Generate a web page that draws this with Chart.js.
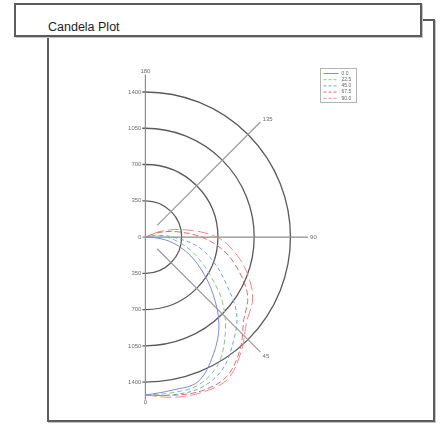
<!DOCTYPE html>
<html>
<head>
<meta charset="utf-8">
<title>Candela Plot</title>
<script src="https://cdn.jsdelivr.net/npm/chart.js@4.4.1/dist/chart.umd.min.js"></script>
<style>
    html, body { margin: 0; padding: 0; background: #fff; }
    body { width: 445px; height: 424px; position: relative; overflow: hidden; font-family: "Liberation Sans", Arial, sans-serif; }
    .panel { position: absolute; left: 47px; top: 19px; width: 384px; height: 399px; border: 2px solid #5c5c5c; box-shadow: 1px 1px 0 #c4c4c4; }
    .title-box { position: absolute; left: 14px; top: 3px; width: 404px; height: 30px; border: 2px solid #5c5c5c; background: #fff; box-shadow: 1px 1px 0 #c4c4c4; }
    .title-box span { position: absolute; left: 32px; top: 16px; line-height: 1; font-size: 12.5px; color: #222; white-space: nowrap; }
    #wrap { position: absolute; left: 0; top: 0; width: 445px; height: 424px; }
</style>
</head>
<body>
<div class="panel"></div>
<div class="title-box"><span>Candela Plot</span></div>
<div id="wrap"><canvas id="candela" width="445" height="424"></canvas></div>

<script>
    // vertical angles (deg from nadir) and candela values per C-plane
    const angles = [0, 10, 20, 30, 40, 50, 60, 70, 80, 90, 100, 110, 120];
    const planeLabels = ['0.0', '22.5', '45.0', '67.5', '90.0'];
    const cdPlane0 = [1525, 1500, 1485, 1310, 1105, 850, 620, 425, 235, 50, 0, 0, 0];
    const cdPlane22 = [1525, 1525, 1515, 1410, 1200, 970, 715, 520, 350, 200, 60, 0, 0];
    const cdPlane45 = [1525, 1545, 1550, 1480, 1320, 1150, 900, 700, 510, 265, 100, 0, 0];
    const cdPlane67 = [1525, 1550, 1580, 1560, 1420, 1240, 1140, 960, 770, 540, 300, 120, 0];
    const cdPlane90 = [1525, 1570, 1595, 1585, 1440, 1275, 1195, 1050, 880, 690, 400, 170, 0];

    // grid rings and angle spokes
    const ringTicks = [350, 700, 1050, 1400];
    const ringLabels = ['350', '700', '1050', '1400'];
    const angleTicks = [0, 45, 90, 135, 180];
    const angleLabels = ['0', '45', '90', '135', '180'];
    const axisMax = 1570;
    const spokeStart = 160;

    const planeStyles = [
        {color: '#7d8ad6', dash: []},
        {color: '#86c48c', dash: [5, 3]},
        {color: '#6aa4d8', dash: [4, 3]},
        {color: '#e06c6c', dash: [6, 3]},
        {color: '#f08a8a', dash: [11, 4]}
    ];

    function toPoints(values) {
        return angles.map(function (a, i) {
            const rad = a * Math.PI / 180;
            return {x: values[i] * Math.sin(rad), y: -values[i] * Math.cos(rad)};
        });
    }

    const planes = [cdPlane0, cdPlane22, cdPlane45, cdPlane67, cdPlane90];
    const datasets = planes.map(function (values, i) {
        return {
            label: planeLabels[i],
            data: toPoints(values),
            showLine: true,
            borderColor: planeStyles[i].color,
            borderDash: planeStyles[i].dash,
            borderWidth: 1,
            pointRadius: 0,
            tension: 0.35,
            fill: false
        };
    });

    // Polar grid: rings, axes, spokes, labels
    const polarGrid = {
        id: 'polarGrid',
        beforeDatasetsDraw: function (chart) {
            const ctx = chart.ctx;
            const xs = chart.scales.x;
            const ys = chart.scales.y;
            const cx = xs.getPixelForValue(0);
            const cy = ys.getPixelForValue(0);
            const k = xs.getPixelForValue(1000) - cx;
            const px = function (v) { return v * k / 1000; };
            ctx.save();

            // rings
            ctx.strokeStyle = '#5a5a5a';
            ctx.lineWidth = 1.3;
            ringTicks.forEach(function (v) {
                const r = px(v);
                ctx.beginPath();
                ctx.arc(cx, cy, r, -Math.PI / 2, Math.PI / 2);
                ctx.stroke();
                ctx.beginPath();
                ctx.moveTo(cx - 3, cy - r);
                ctx.lineTo(cx, cy - r);
                ctx.moveTo(cx - 3, cy + r);
                ctx.lineTo(cx, cy + r);
                ctx.stroke();
            });

            // main axes
            const R = px(axisMax);
            ctx.strokeStyle = '#8c8c8c';
            ctx.lineWidth = 1.2;
            ctx.beginPath();
            ctx.moveTo(cx, cy - R);
            ctx.lineTo(cx, cy + R);
            ctx.moveTo(cx - 3, cy);
            ctx.lineTo(cx + R, cy);
            ctx.stroke();

            // diagonal spokes
            ctx.strokeStyle = '#9a9a9a';
            [45, 135].forEach(function (a) {
                const rad = a * Math.PI / 180;
                ctx.beginPath();
                ctx.moveTo(cx + px(spokeStart) * Math.sin(rad), cy + px(spokeStart) * Math.cos(rad));
                ctx.lineTo(cx + R * Math.sin(rad), cy + R * Math.cos(rad));
                ctx.stroke();
            });

            // ring labels on both halves
            ctx.fillStyle = '#6e6e6e';
            ctx.font = '6px "Liberation Sans", Arial, sans-serif';
            ctx.textAlign = 'right';
            ctx.textBaseline = 'middle';
            ctx.fillText('0', cx - 4, cy);
            ringTicks.forEach(function (v, i) {
                ctx.fillText(ringLabels[i], cx - 4, cy - px(v));
                ctx.fillText(ringLabels[i], cx - 4, cy + px(v));
            });

            // angle labels
            angleTicks.forEach(function (a, i) {
                const rad = a * Math.PI / 180;
                const lr = R + (a === 90 ? 2 : 3);
                const x = cx + lr * Math.sin(rad);
                let y = cy + lr * Math.cos(rad);
                if (a === 0 || a === 180) {
                    ctx.textAlign = 'center';
                } else {
                    ctx.textAlign = 'left';
                    if (a === 45) { y += 2; }
                    if (a === 135) { y -= 1; }
                }
                ctx.fillText(angleLabels[i], x, y);
            });
            ctx.restore();
        },
        afterDraw: function (chart) {
            // small boxed legend, top right
            const ctx = chart.ctx;
            const bx = 320.5, by = 68.5, bw = 36, bh = 34;
            ctx.save();
            ctx.strokeStyle = '#b4b4b4';
            ctx.lineWidth = 1;
            ctx.strokeRect(bx, by, bw, bh);
            ctx.font = '5px "Liberation Sans", Arial, sans-serif';
            ctx.textAlign = 'left';
            ctx.textBaseline = 'middle';
            chart.data.datasets.forEach(function (ds, i) {
                const y = by + 5 + i * 6.2;
                ctx.strokeStyle = ds.borderColor;
                ctx.setLineDash(ds.borderDash.length ? [3, 2] : []);
                ctx.beginPath();
                ctx.moveTo(bx + 3, y);
                ctx.lineTo(bx + 18, y);
                ctx.stroke();
                ctx.setLineDash([]);
                ctx.fillStyle = '#666';
                ctx.fillText(ds.label, bx + 21, y);
            });
            ctx.restore();
        }
    };

    const ctx = document.getElementById('candela').getContext('2d');
    const candelaChart = new Chart(ctx, {
        type: 'scatter',
        data: {datasets: datasets},
        options: {
            responsive: false,
            animation: false,
            layout: {padding: {left: 48, top: 36, right: 10, bottom: 3}},
            scales: {
                x: {type: 'linear', min: -940, max: 2795, display: false},
                y: {type: 'linear', min: -1775, max: 1940, display: false}
            },
            plugins: {
                legend: {display: false},
                title: {display: false},
                tooltip: {enabled: false}
            }
        },
        plugins: [polarGrid]
    });
</script>
</body>
</html>
